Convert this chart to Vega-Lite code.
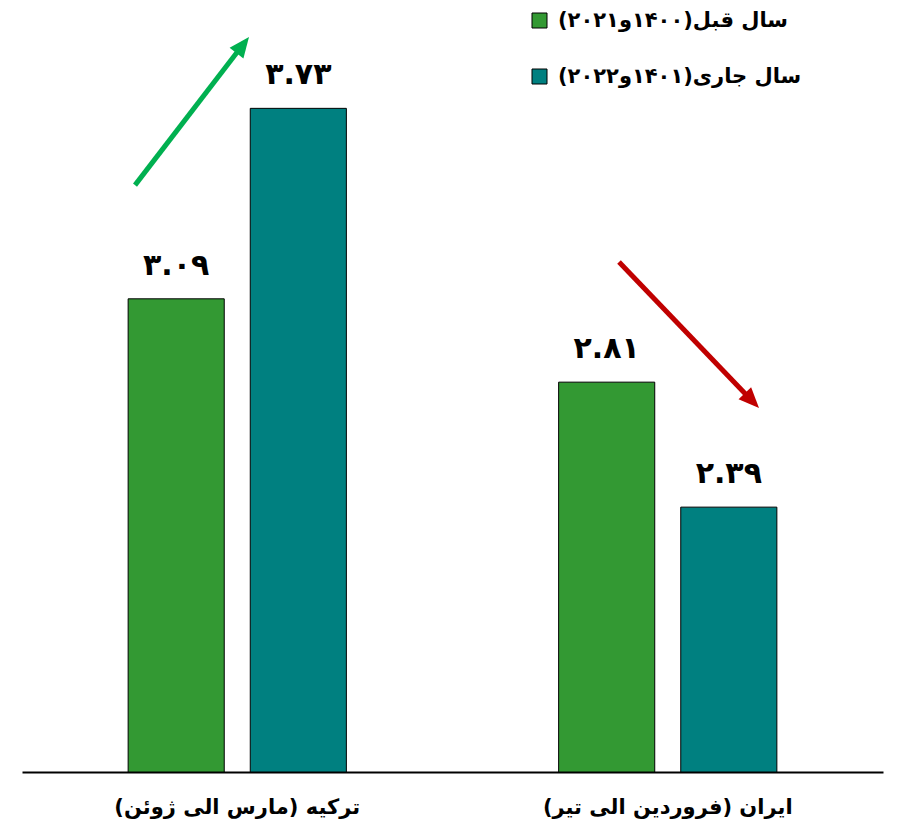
{
  "$schema": "https://vega.github.io/schema/vega-lite/v6.json",
  "width": 861,
  "height": 744,
  "autosize": {"type": "none"},
  "padding": {"left": 22, "top": 28, "right": 14, "bottom": 60},
  "background": "white",
  "config": {"view": {"stroke": null}, "font": "DejaVu Sans"},
  "datasets": {
    "bars": [
      {"country": "ترکیه (مارس الی ژوئن)\u200f", "period": "سال قبل(۱۴۰۰و۲۰۲۱)\u200f", "value": 3.09, "label": "۳.۰۹"},
      {"country": "ترکیه (مارس الی ژوئن)\u200f", "period": "سال جاری(۱۴۰۱و۲۰۲۲)\u200f", "value": 3.73, "label": "۳.۷۳"},
      {"country": "ایران (فروردین الی تیر)\u200f", "period": "سال قبل(۱۴۰۰و۲۰۲۱)\u200f", "value": 2.81, "label": "۲.۸۱"},
      {"country": "ایران (فروردین الی تیر)\u200f", "period": "سال جاری(۱۴۰۱و۲۰۲۲)\u200f", "value": 2.39, "label": "۲.۳۹"}
    ],
    "arrows": [
      {"trend": "up", "x_start": 0.2625, "y_start": 3.472, "x_end": 0.5059, "y_end": 3.93, "x_tip": 0.5273, "y_tip": 3.97},
      {"trend": "down", "x_start": 1.3868, "y_start": 3.214, "x_end": 1.6878, "y_end": 2.759, "x_tip": 1.712, "y_tip": 2.723}
    ]
  },
  "layer": [
    {
      "data": {"name": "bars"},
      "encoding": {
        "x": {
          "field": "country", "type": "nominal",
          "sort": ["ترکیه (مارس الی ژوئن)\u200f", "ایران (فروردین الی تیر)\u200f"],
          "scale": {"paddingInner": 0, "paddingOuter": 0},
          "axis": {"title": null, "labelAngle": 0, "labelFontSize": 21, "labelFontWeight": "bold", "labelColor": "black", "labelFont": "DejaVu Sans", "labelPadding": 24, "ticks": false, "domainColor": "black", "domainWidth": 2, "labelLimit": 400}
        },
        "xOffset": {
          "field": "period", "type": "nominal",
          "sort": ["سال قبل(۱۴۰۰و۲۰۲۱)\u200f", "سال جاری(۱۴۰۱و۲۰۲۲)\u200f"],
          "scale": {"paddingInner": 0.213, "paddingOuter": 0.869}
        },
        "y": {"field": "value", "type": "quantitative", "scale": {"domain": [1.5, 4], "zero": false}, "axis": null}
      },
      "layer": [
        {
          "mark": {"type": "bar", "stroke": "black", "strokeWidth": 1},
          "encoding": {
            "y2": {"datum": 1.5},
            "color": {
              "field": "period", "type": "nominal",
              "scale": {"domain": ["سال قبل(۱۴۰۰و۲۰۲۱)\u200f", "سال جاری(۱۴۰۱و۲۰۲۲)\u200f"], "range": ["#339933", "#008080"]},
              "legend": {"title": null, "orient": "none", "legendX": 507, "legendY": -18, "direction": "vertical", "symbolType": "square", "symbolSize": 225, "symbolStrokeColor": "black", "symbolStrokeWidth": 1, "symbolOpacity": 1, "labelFontSize": 21, "labelFont": "DejaVu Sans", "labelFontWeight": "bold", "labelColor": "black", "labelOffset": 8, "rowPadding": 34, "padding": 0, "labelLimit": 400}
            }
          }
        },
        {
          "mark": {"type": "text", "dy": -24, "baseline": "alphabetic", "fontSize": 30, "fontWeight": "bold", "font": "DejaVu Sans", "color": "black"},
          "encoding": {"text": {"field": "label"}}
        }
      ]
    },
    {
      "data": {"name": "arrows"},
      "encoding": {
        "color": {"condition": {"test": "datum.trend === 'up'", "value": "#00b050"}, "value": "#c00000"}
      },
      "layer": [
        {
          "mark": {"type": "rule", "strokeWidth": 5},
          "encoding": {
            "x": {"field": "x_start", "type": "quantitative", "scale": {"domain": [0, 2]}, "axis": null},
            "x2": {"field": "x_end"},
            "y": {"field": "y_start", "type": "quantitative", "scale": {"domain": [1.5, 4], "zero": false}, "axis": null},
            "y2": {"field": "y_end"}
          }
        },
        {
          "mark": {"type": "point", "shape": "M0,0L0.85,2L-0.85,2Z", "size": 420, "filled": true, "opacity": 1, "strokeWidth": 0},
          "encoding": {
            "x": {"field": "x_tip", "type": "quantitative", "scale": {"domain": [0, 2]}, "axis": null},
            "y": {"field": "y_tip", "type": "quantitative", "scale": {"domain": [1.5, 4], "zero": false}, "axis": null},
            "angle": {"condition": {"test": "datum.trend === 'up'", "value": 37.6}, "value": 136.2}
          }
        }
      ]
    }
  ],
  "resolve": {"scale": {"x": "independent", "color": "independent"}}
}
